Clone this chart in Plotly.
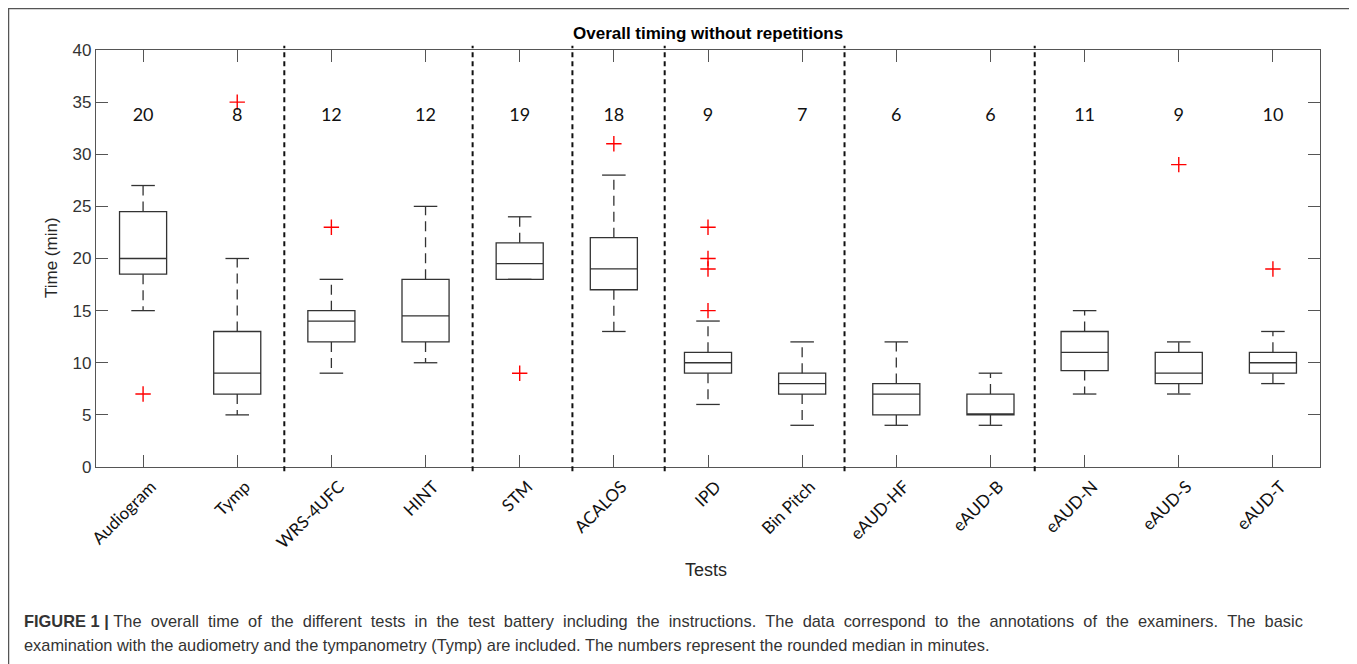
import plotly.graph_objects as go

tests = ["Audiogram", "Tymp", "WRS-4UFC", "HINT", "STM", "ACALOS", "IPD",
         "Bin Pitch", "eAUD-HF", "eAUD-B", "eAUD-N", "eAUD-S", "eAUD-T"]
lower_whisker = [15, 5, 9, 10, 18, 13, 6, 4, 4, 4, 7, 7, 8]
q1 = [18.5, 7, 12, 12, 18, 17, 9, 7, 5, 5, 9.25, 8, 9]
median = [20, 9, 14, 14.5, 19.5, 19, 10, 8, 7, 5, 11, 9, 10]
q3 = [24.5, 13, 15, 18, 21.5, 22, 11, 9, 8, 7, 13, 11, 11]
upper_whisker = [27, 20, 18, 25, 24, 28, 14, 12, 12, 9, 15, 12, 13]
outliers = {
    "Audiogram": [7],
    "Tymp": [35],
    "WRS-4UFC": [23],
    "STM": [9],
    "ACALOS": [31],
    "IPD": [23, 20, 19, 15],
    "eAUD-S": [29],
    "eAUD-T": [19],
}
rounded_median = [20, 8, 12, 12, 19, 18, 9, 7, 6, 6, 11, 9, 10]
separators = [2.5, 4.5, 5.56, 6.54, 8.45, 10.47]

pos = list(range(1, len(tests) + 1))
fig = go.Figure()

# boxes (whiskers drawn separately as dashed lines)
fig.add_trace(go.Box(
    x=pos, q1=q1, median=median, q3=q3, lowerfence=q1, upperfence=q3,
    width=0.5, whiskerwidth=0, line=dict(color="#333333", width=1.3),
    fillcolor="rgba(255,255,255,0)", boxpoints=False, showlegend=False,
    hoverinfo="skip"))

wx, wy, cx, cy = [], [], [], []
for p, lo, a, b, hi in zip(pos, lower_whisker, q1, q3, upper_whisker):
    if hi > b:
        wx += [p, p, None]; wy += [b, hi, None]
    if lo < a:
        wx += [p, p, None]; wy += [a, lo, None]
    cx += [p - 0.125, p + 0.125, None, p - 0.125, p + 0.125, None]
    cy += [hi, hi, None, lo, lo, None]
fig.add_trace(go.Scatter(x=wx, y=wy, mode="lines", showlegend=False,
                         line=dict(color="#333333", width=1.3, dash="10px,6px"),
                         hoverinfo="skip"))
fig.add_trace(go.Scatter(x=cx, y=cy, mode="lines", showlegend=False,
                         line=dict(color="#333333", width=1.3), hoverinfo="skip"))

ox, oy = [], []
for name, vals in outliers.items():
    for v in vals:
        ox.append(tests.index(name) + 1); oy.append(v)
fig.add_trace(go.Scatter(x=ox, y=oy, mode="markers", showlegend=False,
                         marker=dict(symbol="cross-thin", size=11,
                                     line=dict(color="#ff0000", width=1.4))))

fig.add_trace(go.Scatter(x=pos, y=[33.6] * len(pos), mode="text",
                         text=[str(v) for v in rounded_median],
                         textfont=dict(family="Lato, Open Sans, sans-serif", size=18, color="#111111"),
                         showlegend=False, hoverinfo="skip"))

for s in separators:
    fig.add_shape(type="line", xref="x", yref="paper", x0=s, x1=s, y0=-0.01, y1=1.01,
                  line=dict(color="#111111", width=2, dash="5px,4px"))

# page body has an 8px margin: figure px = page px - OFF
OFF = 8
W, H = 1357, 664
L, R, T, B = 96 - OFF, 1320 - OFF, 50 - OFF, 467 - OFF
pw, ph = R - L, B - T
def px(x): return (x - OFF - L) / pw
def py(y): return (B - (y - OFF)) / ph

# outer frame
fig.add_shape(type="rect", xref="paper", yref="paper", x0=px(8.5), x1=px(1352),
              y0=py(720), y1=py(8.5), line=dict(color="#555555", width=1.5),
              layer="below")

def ann(x, y, text, font, **kw):
    d = dict(xref="paper", yref="paper", x=px(x), y=py(y), text=text, showarrow=False,
             font=font, xanchor="center", yanchor="middle")
    d.update(kw)
    fig.add_annotation(**d)

ann(708, 33, "<b>Overall timing without repetitions</b>",
    dict(family="Liberation Sans, Arial, sans-serif", size=17, color="#000000"))
ann(706, 570, "Tests", dict(family="Liberation Sans, Arial, sans-serif", size=18, color="#262626"))
ann(51, 258, "Time (min)", dict(family="Liberation Sans, Arial, sans-serif", size=17, color="#262626"),
    textangle=-90)

cap_font = dict(family="Liberation Sans, Arial, sans-serif", size=16.4, color="#333333")
line1 = "The overall time of the different tests in the test battery including the instructions. The data correspond to the annotations of the examiners. The basic"
line2 = "examination with the audiometry and the tympanometry (Tymp) are included. The numbers represent the rounded median in minutes."
ann(22, 621, "<b>FIGURE 1 |</b>\u00a0" + " \u00a0".join(line1.split(" ")), cap_font, xanchor="left")
ann(22, 645, line2, cap_font, xanchor="left")

axis_common = dict(showline=True, linecolor="#555555", linewidth=1.3, mirror="ticks",
                   ticks="inside", ticklen=12, tickcolor="#555555", showgrid=False,
                   zeroline=False)
fig.update_xaxes(range=[0.5, 13.5], tickvals=pos, ticktext=tests, tickangle=-45,
                 tickfont=dict(family="Lato, Open Sans, sans-serif", size=17, color="#111111"),
                 ticklabelshift=8, ticklabelstandoff=2,
                 **axis_common)
fig.update_yaxes(range=[0, 40], dtick=5,
                 tickfont=dict(family="Liberation Sans, Arial, sans-serif", size=17, color="#333333"),
                 **axis_common)
fig.update_layout(width=W, height=H, margin=dict(l=L, r=W - R, t=T, b=H - B),
                  plot_bgcolor="white", paper_bgcolor="white")
fig.write_html("out.html")
